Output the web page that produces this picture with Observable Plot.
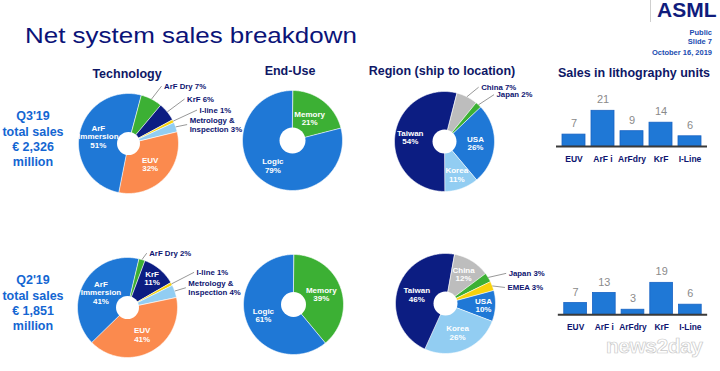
<!DOCTYPE html>
<html><head><meta charset="utf-8">
<script src="https://cdn.jsdelivr.net/npm/d3@7"></script>
<script src="https://cdn.jsdelivr.net/npm/@observablehq/plot@0.6"></script>
<style>
html,body{margin:0;padding:0;background:#fff;}
#root{position:relative;width:720px;height:371px;overflow:hidden;background:#fff;font-family:"Liberation Sans",Arial,sans-serif;}
#root > div{position:absolute;white-space:pre;}
#root svg{display:block;}
</style></head><body><div id="root"></div>
<script>
// ---------- data ----------
const quarters = ["Q3'19", "Q2'19"];
const totalSales = ["€ 2,326", "€ 1,851"];

const techLabels = ["EUV", "ArF Immersion", "ArF Dry", "KrF", "I-line", "Metrology & Inspection"];
const techText   = ["EUV", "ArF\nImmersion", "ArF Dry", "KrF", "I-line", "Metrology &\nInspection"];
const techQ3 = [32, 51, 7, 6, 1, 3];
const techQ2 = [41, 41, 2, 11, 1, 4];

const endUseLabels = ["Memory", "Logic"];
const endUseQ3 = [21, 79];
const endUseQ2 = [39, 61];

const regionLabelsQ3 = ["China", "Japan", "USA", "Korea", "Taiwan"];
const regionQ3 = [7, 2, 26, 11, 54];
const regionLabelsQ2 = ["China", "Japan", "EMEA", "USA", "Korea", "Taiwan"];
const regionQ2 = [12, 3, 3, 10, 26, 46];

const unitCategories = ["EUV", "ArF i", "ArFdry", "KrF", "I-Line"];
const unitsQ3 = [7, 21, 9, 14, 6];
const unitsQ2 = [7, 13, 3, 19, 6];

// ---------- styles ----------
const NAVY = "#0d1470";
const BLUE = "#1f78d6";
const colorOf = {
  "EUV": "#fb8a4e", "ArF Immersion": BLUE, "ArF Dry": "#3cb034", "KrF": "#0c1d82",
  "I-line": "#f7d20c", "Metrology & Inspection": "#92cdf2",
  "Memory": "#3cb034", "Logic": BLUE,
  "China": "#bdbdbd", "Japan": "#3cb034", "EMEA": "#f7d20c", "USA": BLUE, "Korea": "#92cdf2", "Taiwan": "#0c1d82"
};

const root = document.getElementById("root");
function addDiv(txt, css) {
  const d = document.createElement("div");
  d.textContent = txt; d.style.cssText = css; root.appendChild(d); return d;
}
function place(node, left, top) {
  const d = document.createElement("div");
  d.style.cssText = `left:${left}px;top:${top}px;`;
  d.appendChild(node); root.appendChild(d);
}

// ---------- header ----------
addDiv("Net system sales breakdown", `left:25px;top:24.7px;font-size:22px;line-height:22px;color:#0b1378;transform:scaleX(1.18);transform-origin:0 0;`);
addDiv("", "left:650px;top:0;width:1px;height:22px;background:#cfcfcf;");
addDiv("ASML", `left:657px;top:0px;font-size:20px;line-height:20px;font-weight:900;color:#101c7c;transform:scaleX(1.05);transform-origin:0 0;`);
addDiv("Public", `right:8px;top:29px;font-size:7.5px;line-height:8px;font-weight:bold;color:#1a4cb0;`);
addDiv("Slide 7", `right:8px;top:38px;font-size:7.5px;line-height:8px;font-weight:bold;color:#1a4cb0;`);
addDiv("October 16, 2019", `right:8px;top:49px;font-size:7.5px;line-height:8px;font-weight:bold;color:#1a4cb0;`);

const hdr = (t, x, y) => addDiv(t, `left:${x}px;top:${y}px;transform:translate(-50%,-50%);font-size:12.5px;font-weight:bold;color:#0e1766;`);
hdr("Technology", 127, 74);
hdr("End-Use", 290, 71);
hdr("Region (ship to location)", 442, 71);
hdr("Sales in lithography units", 634, 73);

// quarter labels
[109.4, 273.4].forEach((top, i) => {
  addDiv(`${quarters[i]}\ntotal sales\n${totalSales[i]}\nmillion`,
    `left:-7px;width:80px;text-align:center;top:${top}px;font-size:12.5px;line-height:15.3px;font-weight:bold;color:#1466d2;`);
});

// ---------- pies ----------
function polar(a, r) { const t = a * Math.PI / 180; return [r * Math.sin(t), r * Math.cos(t)]; }

function drawPie({labels, texts, values, start, cx, cy, hole, inside, outside}) {
  const R = 50, W = 210, H = 140, ox = 70, oy = 70;
  const total = d3.sum(values);
  let a = start;
  const slices = values.map((v, i) => {
    const a0 = a, a1 = a + v / total * 360; a = a1;
    return {label: labels[i], text: texts[i], value: v, color: colorOf[labels[i]], a0, a1, mid: (a0 + a1) / 2};
  });
  const pts = [];
  for (const s of slices) {
    pts.push({k: s.label, c: s.color, x: 0, y: 0});
    const n = Math.max(2, Math.ceil(s.a1 - s.a0));
    for (let j = 0; j <= n; j++) {
      const [x, y] = polar(s.a0 + (s.a1 - s.a0) * j / n, 1);
      pts.push({k: s.label, c: s.color, x, y});
    }
  }
  const ins = slices.filter(s => inside[s.label] !== undefined).map(s => {
    const [x, y] = polar(s.mid, inside[s.label]);
    return {x, y, t: `${s.text}\n${s.value}%`};
  });
  const outs = slices.filter(s => outside[s.label]).map(s => {
    const o = outside[s.label];
    const [x1, y1] = polar(s.mid, 1.0);
    const [tx, ty] = polar(s.mid + o.da, o.r);
    return {x1, y1, x2: tx - 0.05, y2: ty, tx, ty, t: `${s.text} ${s.value}%`};
  });
  const svg = Plot.plot({
    width: W, height: H, margin: 0,
    x: {domain: [-ox / R, (W - ox) / R], range: [0, W], axis: null},
    y: {domain: [-(H - oy) / R, oy / R], range: [H, 0], axis: null},
    color: {type: "identity"},
    style: {background: "transparent", overflow: "visible", fontFamily: "Liberation Sans, Arial, sans-serif"},
    marks: [
      Plot.line(pts, {x: "x", y: "y", z: "k", fill: "c", stroke: "white", strokeWidth: 0.6, curve: "linear-closed"}),
      Plot.dot([0], {x: () => 0, y: () => 0, r: hole, fill: "white", stroke: "none"}),
      Plot.text(ins, {x: "x", y: "y", text: "t", fill: "white", fontWeight: "bold", fontSize: 8, lineHeight: 1.05}),
      Plot.link(outs, {x1: "x1", y1: "y1", x2: "x2", y2: "y2", stroke: "#8c8c8c", strokeWidth: 0.9}),
      Plot.text(outs, {x: "tx", y: "ty", text: "t", textAnchor: "start", fill: NAVY, fontWeight: "bold", fontSize: 7.8, lineHeight: 1.1})
    ]
  });
  place(svg, cx - ox, cy - oy);
}

drawPie({labels: techLabels, texts: techText, values: techQ3, start: 76, cx: 128, cy: 143, hole: 11.5,
  inside: {"EUV": 0.6, "ArF Immersion": 0.62},
  outside: {"ArF Dry": {da: 4.4, r: 1.35}, "KrF": {da: 2, r: 1.47}, "I-line": {da: 1.4, r: 1.57}, "Metrology & Inspection": {da: 2.2, r: 1.28}}});
drawPie({labels: techLabels, texts: techText, values: techQ2, start: 78, cx: 127, cy: 307, hole: 11.5,
  inside: {"EUV": 0.62, "ArF Immersion": 0.61, "KrF": 0.76},
  outside: {"ArF Dry": {da: 5, r: 1.17}, "I-line": {da: 1.2, r: 1.55}, "Metrology & Inspection": {da: 1.2, r: 1.28}}});
drawPie({labels: endUseLabels, texts: endUseLabels, values: endUseQ3, start: 0, cx: 292, cy: 140, hole: 13,
  inside: {"Memory": 0.56, "Logic": 0.64}, outside: {}});
drawPie({labels: endUseLabels, texts: endUseLabels, values: endUseQ2, start: 0, cx: 293, cy: 304, hole: 12.5,
  inside: {"Memory": 0.59, "Logic": 0.64}, outside: {}});
drawPie({labels: regionLabelsQ3, texts: regionLabelsQ3, values: regionQ3, start: 14, cx: 444, cy: 141, hole: 12,
  inside: {"USA": 0.62, "Korea": 0.71, "Taiwan": 0.69},
  outside: {"China": {da: 7.4, r: 1.31}, "Japan": {da: 5.2, r: 1.4}}});
drawPie({labels: regionLabelsQ2, texts: regionLabelsQ2, values: regionQ2, start: 10, cx: 445, cy: 303, hole: 12,
  inside: {"China": 0.69, "USA": 0.76, "Korea": 0.63, "Taiwan": 0.6},
  outside: {"Japan": {da: 5.9, r: 1.4}, "EMEA": {da: 6.1, r: 1.28}}});

// ---------- bars ----------
function drawBars(values, left, top, H, base) {
  const data = unitCategories.map((c, i) => ({c, v: values[i]}));
  const marginBottom = H - base;
  const marginTop = base - 42.5;
  const svg = Plot.plot({
    width: 180, height: H, marginLeft: 16, marginRight: 13, marginTop, marginBottom,
    x: {domain: unitCategories, paddingInner: 0.2, paddingOuter: 0.12, axis: null},
    y: {domain: [0, 25], axis: null},
    style: {background: "transparent", overflow: "visible", fontFamily: "Liberation Sans, Arial, sans-serif"},
    marks: [
      Plot.barY(data, {x: "c", y: "v", fill: BLUE, stroke: "#1763c4", strokeWidth: 0.8}),
      Plot.ruleY([0], {stroke: "#3a3a3a", strokeWidth: 2}),
      Plot.text(data, {x: "c", y: "v", text: d => String(d.v), dy: -11, fill: "#8a8a8a", fontSize: 11}),
      Plot.text(data, {x: "c", y: () => 0, text: "c", dy: 13, fill: NAVY, fontWeight: "bold", fontSize: 8.5})
    ]
  });
  place(svg, left, top);
}
drawBars(unitsQ3, 540, 85, 85, 61);
drawBars(unitsQ2, 542, 250, 90, 65);

// watermark
addDiv("news2day", `left:606px;top:335px;font-size:21px;line-height:22px;font-weight:bold;color:rgba(255,255,255,0.6);-webkit-text-stroke:0.7px #c9c9c9;letter-spacing:-0.5px;`);
</script></body></html>
